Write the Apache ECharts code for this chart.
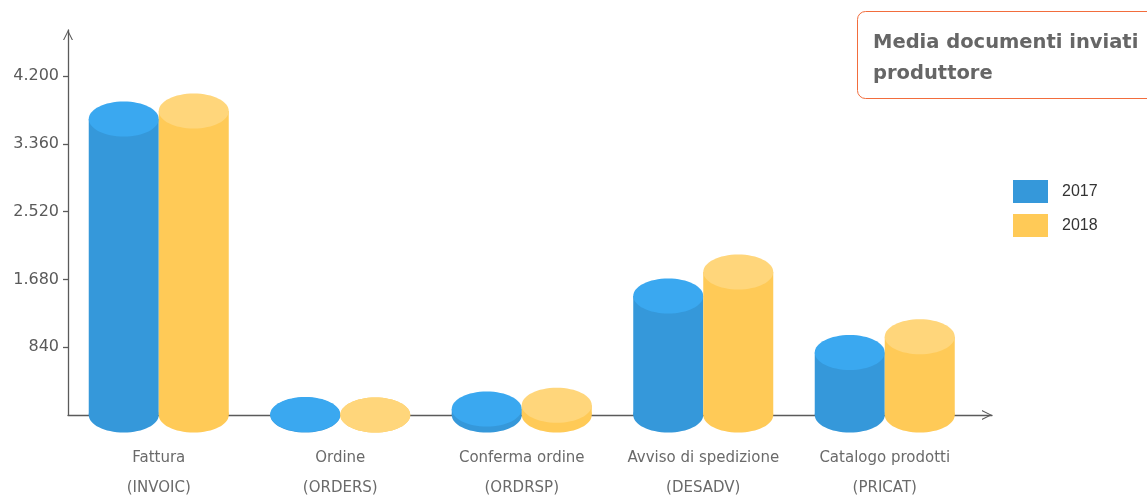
<!DOCTYPE html>
<html>
<head>
<meta charset="utf-8">
<script src="https://cdn.jsdelivr.net/npm/echarts@6/dist/echarts.min.js"></script>
<style>
  html, body { margin: 0; padding: 0; background: #fff; }
  #chart { width: 1147px; height: 498px; }
</style>
</head>
<body>
<div id="chart"></div>
<script>
// ---- Data ----
const categoryNames = ['Fattura', 'Ordine', 'Conferma ordine', 'Avviso di spedizione', 'Catalogo prodotti'];
const categoryCodes = ['(INVOIC)', '(ORDERS)', '(ORDRSP)', '(DESADV)', '(PRICAT)'];
const seriesNames = ['2017', '2018'];
const values2017 = [3667, 5, 74, 1474, 774];
const values2018 = [3766, 0, 120, 1772, 970];
const yTickValues = [840, 1680, 2520, 3360, 4200];
const titleText = 'Media documenti inviati\nproduttore';

// ---- Styles ----
const bodyColors = ['#3598da', '#ffca57'];
const topColors = ['#3aa8f0', '#ffd67b'];
const axisColor = '#5a5a5a';
const font = '"DejaVu Sans", sans-serif';

function itFormat(v) {
  return String(v).replace(/\B(?=(\d{3})+(?!\d))/g, '.');
}

const categories = categoryNames.map((n, i) => n + '\n' + categoryCodes[i]);
const chevron = 'path://M0,10 L5,0 L10,10 L8.8,10 L5,2.2 L1.2,10 Z';

function cylinder(params, api) {
  const idx = params.seriesIndex;
  const cat = api.value(0);
  const val = api.value(1);
  const bandW = api.size([1, 0])[0];
  const w = bandW * 0.3857;
  const h = w * 0.5;
  const top = api.coord([cat, val]);
  const base = api.coord([cat, 0]);
  const cx = top[0] + (idx === 0 ? -w / 2 : w / 2);
  return {
    type: 'group',
    children: [
      { type: 'ellipse', shape: { cx: cx, cy: base[1], rx: w / 2, ry: h / 2 }, style: { fill: bodyColors[idx] } },
      { type: 'rect', shape: { x: cx - w / 2, y: top[1], width: w, height: Math.max(0, base[1] - top[1]) }, style: { fill: bodyColors[idx] } },
      { type: 'ellipse', shape: { cx: cx, cy: top[1], rx: w / 2, ry: h / 2 }, style: { fill: topColors[idx] } }
    ]
  };
}

const chart = echarts.init(document.getElementById('chart'), null, { renderer: 'canvas' });
chart.setOption({
  backgroundColor: '#fff',
  animation: false,
  title: {
    text: titleText,
    left: 857,
    top: 11,
    borderColor: '#f26d3d',
    borderWidth: 1,
    borderRadius: 8,
    padding: [16, 60, 10, 16],
    textStyle: { fontFamily: font, fontSize: 19.5, fontWeight: 'bold', color: '#666', lineHeight: 31 }
  },
  legend: {
    data: seriesNames,
    orient: 'vertical',
    left: 1013,
    top: 180,
    padding: 0,
    itemWidth: 35,
    itemHeight: 23,
    itemGap: 11,
    icon: 'rect',
    textStyle: { fontFamily: '"Liberation Sans", Arial, sans-serif', fontSize: 16, color: '#333', padding: [0, 0, 0, 9] }
  },
  grid: [
    { left: 68, right: 171.5, top: 30, bottom: 83, outerBoundsMode: 'none' },
    { left: 68, right: 155, top: 30, bottom: 83, outerBoundsMode: 'none' }
  ],
  xAxis: [
    {
      type: 'category', gridIndex: 0, data: categories,
      axisLine: { show: false }, axisTick: { show: false }, splitLine: { show: false },
      axisLabel: { interval: 0, margin: 28, lineHeight: 30, fontFamily: font, fontSize: 15, color: '#6a6a6a' }
    },
    {
      type: 'value', gridIndex: 1, min: 0, max: 1,
      axisLine: { show: true, symbol: ['none', chevron], symbolSize: [11, 10], symbolOffset: [0, -5], lineStyle: { color: axisColor, width: 1.3 } },
      axisTick: { show: false }, axisLabel: { show: false }, splitLine: { show: false }
    }
  ],
  yAxis: [
    {
      type: 'value', gridIndex: 0, min: 0, max: 4770,
      axisLine: { show: true, symbol: ['none', chevron], symbolSize: [11, 10], symbolOffset: [0, -5], lineStyle: { color: axisColor, width: 1.3 } },
      axisTick: { show: true, customValues: yTickValues, length: 5, lineStyle: { color: axisColor, width: 1.3 } },
      axisLabel: { customValues: yTickValues, formatter: itFormat, margin: 9, fontFamily: font, fontSize: 16, color: '#5a5a5a' },
      splitLine: { show: false }
    },
    { type: 'value', gridIndex: 1, min: 0, max: 1, show: false }
  ],
  series: [
    {
      name: seriesNames[0], type: 'custom', xAxisIndex: 0, yAxisIndex: 0, clip: false,
      itemStyle: { color: bodyColors[0] },
      encode: { x: 0, y: 1 },
      renderItem: cylinder,
      data: values2017.map((v, i) => [i, v])
    },
    {
      name: seriesNames[1], type: 'custom', xAxisIndex: 0, yAxisIndex: 0, clip: false,
      itemStyle: { color: bodyColors[1] },
      encode: { x: 0, y: 1 },
      renderItem: cylinder,
      data: values2018.map((v, i) => [i, v])
    }
  ]
});
</script>
</body>
</html>
